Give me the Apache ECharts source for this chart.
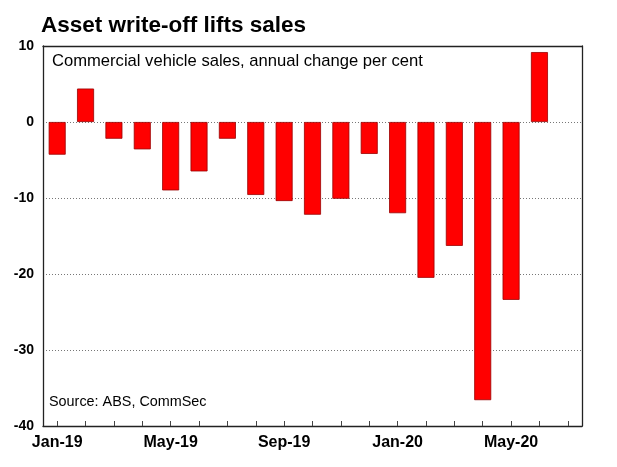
<!DOCTYPE html>
<html>
<head>
<meta charset="utf-8">
<script src="https://cdn.jsdelivr.net/npm/echarts@6/dist/echarts.min.js"></script>
<style>
html,body{margin:0;padding:0;background:#fff;}
#main{width:617px;height:467px;}
</style>
</head>
<body>
<div id="main"></div>
<script>
const categories = ['Jan-19','Feb-19','Mar-19','Apr-19','May-19','Jun-19','Jul-19','Aug-19','Sep-19','Oct-19','Nov-19','Dec-19','Jan-20','Feb-20','Mar-20','Apr-20','May-20','Jun-20','Jul-20'];
const salesChange = [-4.3, 4.4, -2.2, -3.6, -9.0, -6.5, -2.2, -9.6, -10.4, -12.2, -10.1, -4.2, -12.0, -20.5, -16.3, -36.6, -23.4, 9.2, null];
const yTicks = { min: -40, max: 10, interval: 10 };
const titleText = 'Asset write-off lifts sales';
const subtitleText = 'Commercial vehicle sales, annual change per cent';
const sourceText = 'Source: ABS, CommSec';

const FONT = '"Liberation Sans", Arial, sans-serif';
const chart = echarts.init(document.getElementById('main'), null, {renderer: 'canvas'});
chart.setOption({
  animation: false,
  backgroundColor: '#fff',
  grid: { left: 43, right: 35, top: 46, bottom: 41, containLabel: false },
  graphic: [
    { type: 'text', x: 41, y: 26, z: 10,
      style: { text: titleText, font: 'bold 22.5px ' + FONT, fill: '#000', verticalAlign: 'middle' } },
    { type: 'text', x: 52, y: 61, z: 10,
      style: { text: subtitleText, font: '16.6px ' + FONT, fill: '#000', verticalAlign: 'middle' } },
    { type: 'text', x: 49, y: 402, z: 10,
      style: { text: sourceText, font: '14.4px ' + FONT, fill: '#000', verticalAlign: 'middle' } }
  ],
  xAxis: [{
    type: 'category',
    data: categories,
    position: 'bottom',
    boundaryGap: true,
    axisLine: { show: true, onZero: false, lineStyle: { color: '#222', width: 1.3 } },
    axisTick: { show: true, inside: true, length: 5, alignWithLabel: true, interval: 0, lineStyle: { color: '#444' } },
    axisLabel: { interval: 3, margin: 9, color: '#000', fontWeight: 'bold', fontSize: 16, fontFamily: FONT },
    splitLine: { show: false }
  }, {
    type: 'category',
    data: categories,
    position: 'top',
    axisLine: { show: true, onZero: false, lineStyle: { color: '#222', width: 1.3 } },
    axisTick: { show: false },
    axisLabel: { show: false },
    splitLine: { show: false }
  }],
  yAxis: [{
    type: 'value',
    min: yTicks.min, max: yTicks.max, interval: yTicks.interval,
    position: 'left',
    axisLine: { show: true, onZero: false, lineStyle: { color: '#222', width: 1.3 } },
    axisTick: { show: false },
    axisLabel: { margin: 9, color: '#000', fontWeight: 'bold', fontSize: 14, fontFamily: FONT },
    splitLine: { show: true, showMinLine: false, showMaxLine: false, lineStyle: { color: '#777', type: [1, 2], width: 1 } }
  }, {
    type: 'value',
    min: yTicks.min, max: yTicks.max, interval: yTicks.interval,
    position: 'right',
    axisLine: { show: true, onZero: false, lineStyle: { color: '#222', width: 1.3 } },
    axisTick: { show: false },
    axisLabel: { show: false },
    splitLine: { show: false }
  }],
  series: [{
    type: 'bar',
    data: salesChange,
    barWidth: 17,
    itemStyle: { color: '#ff0000', borderColor: '#990000', borderWidth: 0.8 }
  }]
});
</script>
</body>
</html>
